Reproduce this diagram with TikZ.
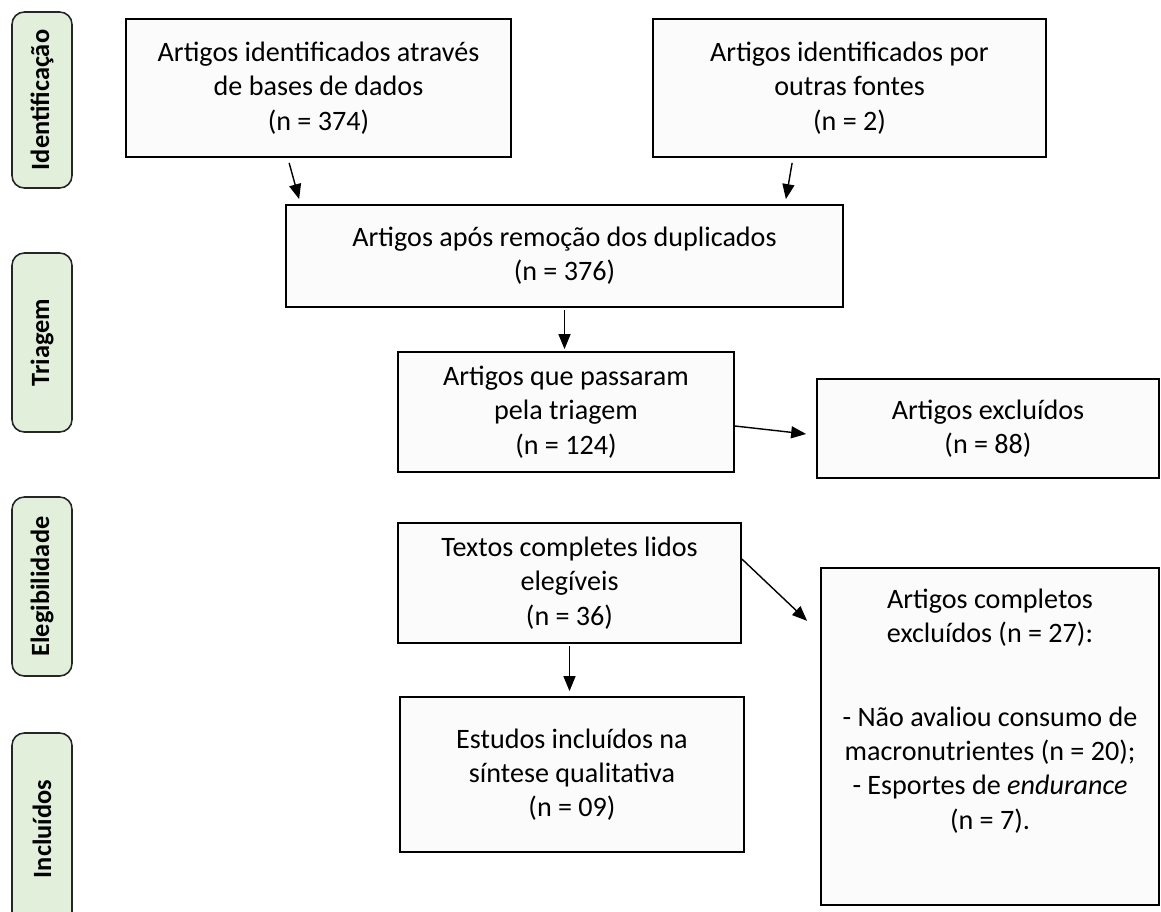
\documentclass[tikz,border=0pt]{standalone}
\usepackage{fontspec}
\setmainfont{Carlito}
\usetikzlibrary{arrows.meta,calc}
\definecolor{lblgreen}{HTML}{E2EFDA}
\definecolor{boxfill}{HTML}{FBFBFB}
\begin{document}
\begin{tikzpicture}[
  box/.style={draw=black, line width=1pt, fill=boxfill, align=center, inner sep=2pt,
    font=\fontsize{16}{19.5}\selectfont},
  txt/.style={align=center, inner sep=2pt, font=\fontsize{16}{19.5}\selectfont},
  lbl/.style={draw=black!85, line width=0.9pt, fill=lblgreen, rounded corners=7pt,
    rotate=90, minimum height=1.2cm, font=\fontsize{15}{17}\selectfont\bfseries, inner sep=0pt},
  arr/.style={line width=0.8pt, -{Triangle[length=0.30cm,width=0.24cm]}}
]
\useasboundingbox (0,0) rectangle (23.22,-18.22);

% side labels
\node[lbl, minimum width=3.52cm] (L1) at (0.84,-2.00) {Identificação};
\node[lbl, minimum width=3.58cm] (L2) at (0.84,-6.85) {Triagem};
\node[lbl, minimum width=3.58cm] (L3) at (0.84,-11.73) {Elegibilidade};
\node[lbl, minimum width=3.84cm] (L4) at (0.84,-16.58) {Incluídos};

% boxes
\node[box, minimum width=7.70cm, minimum height=2.76cm] (B1) at (6.37,-1.76)
  {Artigos identificados através\\de bases de dados\\(n = 374)};
\node[box, minimum width=7.86cm, minimum height=2.76cm] (B2) at (16.99,-1.76)
  {Artigos identificados por\\outras fontes\\(n = 2)};
\node[box, minimum width=11.14cm, minimum height=2.04cm] (B3) at (11.29,-5.12)
  {Artigos após remoção dos duplicados\\(n = 376)};
\node[box, minimum width=6.72cm, minimum height=2.40cm] (B4) at (11.32,-8.24)
  {Artigos que passaram\\pela triagem\\(n = 124)};
\node[box, minimum width=6.84cm, minimum height=1.98cm] (B5) at (19.76,-8.57)
  {Artigos excluídos\\(n = 88)};
\node[box, minimum width=6.86cm, minimum height=2.40cm] (B6) at (11.39,-11.66)
  {Textos completes lidos\\elegíveis\\(n = 36)};
\node[box, minimum width=6.88cm, minimum height=3.10cm] (B7) at (11.44,-15.49)
  {Estudos incluídos na\\síntese qualitativa\\(n = 09)};
\node[box, minimum width=6.76cm, minimum height=6.74cm] (B8) at (19.80,-14.73) {};
\node[txt, anchor=north] (B8t) at ([yshift=-0.36cm]B8.north)
  {Artigos completos\\excluídos (n = 27):\\[28pt]- Não avaliou consumo de\\macronutrientes (n = 20);\\- Esportes de \textit{endurance}\\(n = 7).};

% connectors
\draw[arr] ([shift={(3.28,-0.10)}]B1.south west) -- ([shift={(0.28,0.10)}]B3.north west);
\draw[arr] ([shift={(2.80,-0.10)}]B2.south west) -- ([shift={(-1.16,0.10)}]B3.north east);
\draw[arr] ([yshift=-0.04cm]B3.south) -- ([yshift=0.04cm]B3.south |- B4.north);
\draw[arr] ([yshift=-0.28cm]B4.east) -- ([shift={(-0.20cm,-0.11cm)}]B5.west);
\draw[arr] ([yshift=0.48cm]B6.east) -- ([shift={(-0.26cm,0.46cm)}]B8.west |- B6.south);
\draw[arr] ([yshift=-0.04cm]B6.south) -- ([yshift=0.10cm]B6.south |- B7.north);
\end{tikzpicture}
\end{document}
